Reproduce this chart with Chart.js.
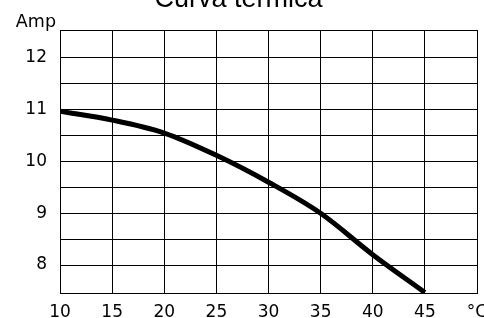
<!DOCTYPE html>
<html>
<head>
<meta charset="utf-8">
<script src="https://cdn.jsdelivr.net/npm/chart.js@4"></script>
<style>
  html, body { margin: 0; padding: 0; background: #fff; }
  #wrap { width: 484px; height: 318px; position: relative; }
</style>
</head>
<body>
<div id="wrap"><canvas id="myChart"></canvas></div>
<script>
// datos
const temperaturas = [10, 15, 20, 25, 30, 35, 40, 45]
const amperios = [10.97, 10.8, 10.55, 10.12, 9.6, 9.0, 8.2, 7.47]
const titulo = 'Curva termica'
const unidadY = 'Amp'
const unidadX = '°C'
const xMin = 10, xMax = 50
const yMin = 7.46, yMax = 12.54

const tickFont = { family: 'DejaVu Sans', size: 17 }

// etiqueta "Amp" sobre el eje
const unidadesPlugin = {
  id: 'unidades',
  afterDraw(chart) {
    const ctx = chart.ctx
    const area = chart.chartArea
    ctx.save()
    ctx.fillStyle = '#000'
    ctx.font = '17.5px "DejaVu Sans"'
    ctx.textAlign = 'right'
    ctx.textBaseline = 'alphabetic'
    ctx.fillText(unidadY, area.left - 4, area.top - 3)
    ctx.restore()
  }
}

const data = {
  datasets: [
    {
      label: 'Amp',
      data: temperaturas.map((t, i) => ({ x: t, y: amperios[i] })),
      borderColor: '#000',
      borderWidth: 5,
      pointRadius: 0,
      cubicInterpolationMode: 'monotone',
      fill: false
    }
  ]
}

const config = {
  type: 'line',
  data,
  options: {
    responsive: true,
    maintainAspectRatio: false,
    animation: false,
    layout: { padding: { left: 0, right: 7, top: 0, bottom: 0 } },
    plugins: {
      legend: { display: false },
      tooltip: { enabled: false },
      title: {
        display: true,
        text: titulo,
        color: '#000',
        font: { family: 'Liberation Sans', size: 27, weight: 'normal', lineHeight: 1.2 },
        padding: { top: -17, bottom: 14.6 }
      }
    },
    scales: {
      x: {
        type: 'linear',
        min: xMin,
        max: xMax,
        ticks: {
          stepSize: 5,
          color: '#000',
          font: tickFont,
          padding: 9,
          maxRotation: 0,
          callback: (v) => (v === xMax ? unidadX : v)
        },
        grid: { color: '#000', lineWidth: 1, drawTicks: false },
        border: { color: '#000', width: 1 },
        afterFit: (scale) => {
          scale.height = 25
          scale.paddingLeft = 0
          scale.paddingRight = 0
        }
      },
      y: {
        min: yMin,
        max: yMax,
        ticks: {
          stepSize: 0.5,
          color: '#000',
          font: tickFont,
          padding: 13,
          callback: (v) => (Number.isInteger(v) ? v : '')
        },
        grid: { color: '#000', lineWidth: 1, drawTicks: false },
        border: { color: '#000', width: 1 },
        afterFit: (scale) => {
          scale.width = 60
          scale.paddingTop = 0
          scale.paddingBottom = 0
        }
      }
    }
  },
  plugins: [unidadesPlugin]
}

const myChart = document.getElementById('myChart')
new Chart(myChart, config)
</script>
</body>
</html>
